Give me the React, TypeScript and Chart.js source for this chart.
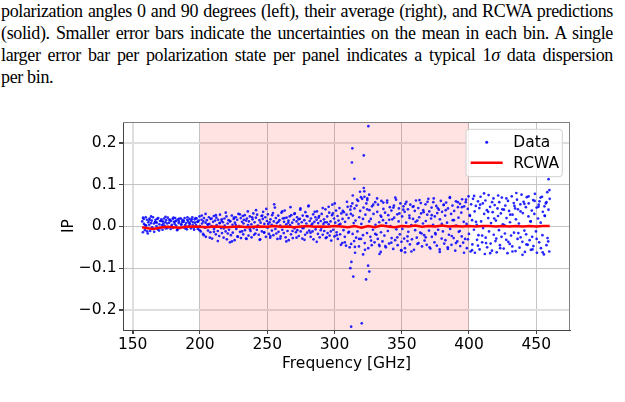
import React, { useEffect, useRef } from "react";
import { Chart, registerables } from "chart.js";

Chart.register(...registerables);

// Measured frequencies (GHz), sweep A
const freqGHz = [
  157.1,157.6,158.2,158.4,159.1,159.7,160.0,160.6,161.2,161.6,
  162.3,162.5,163.0,163.7,164.2,164.4,165.1,165.8,166.0,166.7,
  167.0,167.7,167.9,168.6,169.0,169.8,170.3,170.5,171.3,171.8,
  172.2,172.4,173.3,173.5,174.3,174.6,174.9,175.7,176.1,176.4,
  177.1,177.6,178.2,178.4,179.1,179.7,180.0,180.6,181.2,181.6,
  182.3,182.5,183.0,183.7,184.2,184.4,185.1,185.8,186.0,186.7,
  187.0,187.7,187.9,188.6,189.0,189.8,190.3,190.5,191.3,191.8,
  192.2,192.4,193.3,193.5,194.3,194.6,194.9,195.7,196.1,196.4,
  197.1,197.6,198.2,198.4,199.1,199.7,200.0,200.6,201.2,201.6,
  202.3,202.5,203.0,203.7,204.2,204.4,205.1,205.8,206.0,206.7,
  207.0,207.7,207.9,208.6,209.0,209.8,210.3,210.5,211.3,211.8,
  212.2,212.4,213.3,213.5,214.3,214.6,214.9,215.7,216.1,216.4,
  217.1,217.6,218.2,218.4,219.1,219.7,220.0,220.6,221.2,221.6,
  222.3,222.5,223.0,223.7,224.2,224.4,225.1,225.8,226.0,226.7,
  227.0,227.7,227.9,228.6,229.0,229.8,230.3,230.5,231.3,231.8,
  232.2,232.4,233.3,233.5,234.3,234.6,234.9,235.7,236.1,236.4,
  237.1,237.6,238.2,238.4,239.1,239.7,240.0,240.6,241.2,241.6,
  242.3,242.5,243.0,243.7,244.2,244.4,245.1,245.8,246.0,246.7,
  247.0,247.7,247.9,248.6,249.0,249.8,250.3,250.5,251.3,251.8,
  252.2,252.4,253.3,253.5,254.3,254.6,254.9,255.7,256.1,256.4,
  257.1,257.6,258.2,258.4,259.1,259.7,260.0,260.6,261.2,261.6,
  262.3,262.5,263.0,263.7,264.2,264.4,265.1,265.8,266.0,266.7,
  267.0,267.7,267.9,268.6,269.0,269.8,270.3,270.5,271.3,271.8,
  272.2,272.4,273.3,273.5,274.3,274.6,274.9,275.7,276.1,276.4,
  277.1,277.6,278.2,278.4,279.1,279.7,280.0,280.6,281.2,281.6,
  282.3,282.5,283.0,283.7,284.2,284.4,285.1,285.8,286.0,286.7,
  287.0,287.7,287.9,288.6,289.0,289.8,290.3,290.5,291.3,291.8,
  292.2,292.4,293.3,293.5,294.3,294.6,294.9,295.7,296.1,296.4,
  297.1,297.6,298.2,298.4,299.1,299.7,300.0,300.6,301.2,301.6,
  302.3,302.5,303.0,303.7,304.2,304.4,305.1,305.8,306.0,306.7,
  307.0,307.7,307.9,308.6,309.0,309.8,310.3,310.5,311.3,311.8,
  312.2,312.4,313.3,313.5,314.3,314.6,314.9,315.7,316.1,316.4,
  317.1,317.6,318.2,318.4,319.1,319.7,320.0,320.6,321.2,321.6,
  322.3,322.5,323.0,323.7,324.2,324.4,325.1,325.8,326.0,326.7,
  327.0,327.7,327.9,328.6,329.0,329.8,330.3,330.5,331.3,331.8,
  332.2,332.4,333.3,333.5,334.3,334.6,334.9,335.7,336.1,336.4,
  337.1,337.6,338.2,338.4,339.1,339.7,340.0,340.6,341.2,341.6,
  342.3,342.5,343.0,343.7,344.2,344.4,345.1,345.8,346.0,346.7,
  347.0,347.7,347.9,348.6,349.0,349.8,350.3,350.5,351.3,351.8,
  352.2,352.4,353.3,353.5,354.3,354.6,354.9,355.7,356.1,356.4,
  357.1,357.6,358.2,358.4,359.1,359.7,360.0,360.6,361.2,361.6,
  362.3,362.5,363.0,363.7,364.2,364.4,365.1,365.8,366.0,366.7,
  367.0,367.7,367.9,368.6,369.0,369.8,370.3,370.5,371.3,371.8,
  372.2,372.4,373.3,373.5,374.3,374.6,374.9,375.7,376.1,376.4,
  377.1,377.6,378.2,378.4,379.1,379.7,380.0,380.6,381.2,381.6,
  382.3,382.5,383.0,383.7,384.2,384.4,385.1,385.8,386.0,386.7,
  387.0,387.7,387.9,388.6,389.0,389.8,390.3,390.5,391.3,391.8,
  392.2,392.4,393.3,393.5,394.3,394.6,394.9,395.7,396.1,396.4,
  397.1,397.6,398.2,398.4,399.1,399.7,400.0,400.6,401.2,401.6,
  402.3,402.5,403.0,403.7,404.2,404.4,405.1,405.8,406.0,406.7,
  407.0,407.7,407.9,408.6,409.0,409.8,410.3,410.5,411.3,411.8,
  412.2,412.4,413.3,413.5,414.3,414.6,414.9,415.7,416.1,416.4,
  417.1,417.6,418.2,418.4,419.1,419.7,420.0,420.6,421.2,421.6,
  422.3,422.5,423.0,423.7,424.2,424.4,425.1,425.8,426.0,426.7,
  427.0,427.7,427.9,428.6,429.0,429.8,430.3,430.5,431.3,431.8,
  432.2,432.4,433.3,433.5,434.3,434.6,434.9,435.7,436.1,436.4,
  437.1,437.6,438.2,438.4,439.1,439.7,440.0,440.6,441.2,441.6,
  442.3,442.5,443.0,443.7,444.2,444.4,445.1,445.8,446.0,446.7,
  447.0,447.7,447.9,448.6,449.0,449.8,450.3,450.5,451.3,451.8,
  452.2,452.4,453.3,453.5,454.3,454.6,454.9,455.7,456.1,456.4,
  457.1,457.6,458.2,458.4,459.1,459.7,460.0,
];

// Measured IP, sweep A
const ipData = [
  .012,-.014,.018,.006,-.009,.022,.002,.016,-.017,.010,
  .004,.019,-.011,.008,.014,-.002,.022,.007,-.013,.011,
  .016,.001,.009,-.007,.020,.005,.013,-.004,.017,.003,
  -.008,.012,.019,.002,.010,-.005,.015,.007,.021,-.001,
  .009,.016,-.006,.013,.004,.018,-.003,.011,.006,.020,
  .002,.014,-.009,.017,.008,.012,-.004,.019,.005,.010,
  .015,-.002,.011,.020,.003,.008,-.007,.016,.012,.001,
  .018,.006,-.005,.013,.022,.004,.010,-.008,.017,.009,
  .003,.019,.011,-.006,.014,.024,.001,-.012,.016,.007,
  -.018,.012,.020,-.003,.009,-.025,.015,.004,-.010,.022,
  .006,-.014,.018,.001,-.029,.011,.025,-.006,.014,-.019,
  .021,.003,-.011,.016,-.023,.008,.028,-.004,.013,-.016,
  .010,-.027,.019,.002,-.012,.024,-.031,.007,.015,-.008,
  -.038,.013,-.021,.026,.004,-.015,.018,-.033,.009,.022,
  -.006,.016,-.024,.030,.001,-.013,.020,-.028,.011,.025,
  -.019,.007,.027,-.009,.014,-.030,.019,.003,-.022,.012,
  .024,-.011,.005,-.026,.017,.031,-.004,.010,-.017,.021,
  -.008,.028,.002,-.020,.015,-.032,.009,.025,-.012,.018,
  .035,-.015,.006,.022,-.025,.013,-.003,.029,-.018,.010,
  -.027,.017,.004,-.010,.032,-.021,.012,.045,-.006,.020,
  .008,-.030,.026,-.013,.015,.002,-.024,.033,-.008,.019,
  -.016,.011,.038,-.026,.005,.021,-.011,.014,-.033,.024,
  .003,-.019,.027,.009,-.028,.016,-.005,.031,-.014,.012,
  .022,-.009,.006,-.023,.018,.040,-.012,.010,-.029,.026,
  -.004,.015,-.020,.034,.007,-.015,.024,.048,-.010,.013,
  -.025,.019,.004,-.012,.029,-.031,.011,.022,-.007,.016,
  .036,-.018,.008,.025,-.026,.013,-.003,.030,-.020,.006,
  .017,-.011,.041,-.028,.010,.024,-.016,.005,.033,-.022,
  .012,-.034,.027,.052,-.008,.019,-.024,.009,.038,-.014,
  .025,-.030,.014,.044,-.019,.006,.031,-.040,.018,-.009,
  .034,-.025,.011,-.046,.028,.047,-.015,.020,-.050,.040,
  .030,-.042,.055,-.018,.008,-.035,.043,.014,-.027,.050,
  -.012,.061,-.048,.022,.037,-.030,.006,.066,-.021,.045,
  .071,-.040,.028,.055,-.016,.063,-.052,.012,.039,-.025,
  .018,-.045,.048,-.008,.030,-.038,.058,.004,-.020,.035,
  -.030,.052,.010,-.047,.026,-.014,.061,-.036,.015,.042,
  -.022,.033,-.050,.008,.057,-.011,.027,-.041,.046,.001,
  .038,-.028,.017,-.054,.050,.021,-.033,.064,-.007,.029,
  -.045,.012,.043,-.019,.055,-.037,.024,-.006,.048,-.029,
  .035,-.052,.009,.059,-.024,.041,-.013,.026,-.043,.052,
  .003,-.031,.047,.018,-.056,.037,-.009,.062,-.027,.014,
  .044,-.040,.022,-.015,.056,.031,-.048,.007,.039,-.021,
  -.034,.053,.013,-.044,.028,.066,-.010,.036,-.053,.019,
  .045,-.025,.004,.058,-.038,.024,-.016,.049,-.046,.032,
  -.008,.040,-.055,.017,.061,-.029,.035,-.012,.052,-.041,
  .026,-.033,.057,.009,-.050,.043,-.020,.068,-.006,.030,
  -.044,.050,.015,-.028,.037,-.058,.060,.002,-.036,.046,
  .021,-.013,.054,-.047,.033,-.024,.065,-.039,.011,.048,
  -.030,.058,.006,-.052,.042,.072,-.018,.027,-.060,.053,
  .015,-.043,.066,-.008,.036,-.063,.049,.004,-.032,.060,
  -.021,.044,-.055,.071,.012,-.038,.055,-.004,.030,-.066,
  .062,-.027,.039,-.050,.020,.075,-.012,.047,-.041,.008,
  -.058,.034,.067,-.020,.051,-.035,.014,-.062,.043,.025,
  -.009,.058,-.045,.031,-.025,.069,.005,-.053,.040,-.017,
  .050,-.032,.020,-.064,.061,.037,-.042,.010,-.022,.072,
  -.048,.028,.056,-.015,.043,-.059,.017,.064,-.030,.041,
  .007,-.051,.053,-.026,.076,-.037,.032,.059,-.010,-.061,
  .046,-.019,.070,-.044,.024,.055,-.033,.012,-.056,.038,
  -.025,.063,-.047,.030,.078,-.012,.045,-.063,.019,.052,
  -.038,.060,.009,-.052,.071,-.021,.035,-.067,.048,.025,
  .055,-.045,.082,-.028,.040,-.060,.066,
];

// Measured frequencies (GHz), sweep B
const freqSweepB = [
  157.7,159.4,160.8,162.5,163.7,165.6,166.9,168.3,169.6,171.2,
  172.8,174.4,175.8,177.3,178.9,180.3,181.7,183.4,184.8,186.2,
  187.9,189.1,190.7,192.2,193.9,195.4,196.8,198.3,199.7,201.4,
  202.9,204.2,205.8,207.3,208.7,210.4,211.8,213.3,214.7,216.2,
  217.8,219.2,220.7,222.4,223.8,225.3,226.6,228.2,229.7,231.3,
  232.7,234.3,235.6,237.2,238.8,240.3,241.7,243.2,244.8,246.3,
  247.8,249.3,250.8,252.4,253.7,255.2,256.8,258.3,259.7,261.2,
  262.8,264.2,265.7,267.3,268.8,270.2,271.8,273.3,274.7,276.2,
  277.7,279.3,280.8,282.2,283.7,285.3,286.8,288.2,289.8,291.3,
  292.8,294.2,295.7,297.3,298.8,300.2,301.7,303.3,304.8,306.2,
  307.7,309.3,310.8,312.2,313.7,315.2,316.8,318.3,319.7,321.2,
  322.7,324.3,325.8,327.2,328.8,330.3,331.7,333.2,334.8,336.3,
  337.8,339.2,340.7,342.3,343.8,345.2,346.7,348.3,349.8,351.2,
  352.7,354.3,355.8,357.2,358.8,360.3,361.7,363.2,364.8,366.3,
  367.8,369.2,370.7,372.3,373.8,375.2,376.7,378.3,379.8,381.2,
  382.7,384.3,385.8,387.2,388.8,390.3,391.7,393.2,394.8,396.3,
  397.8,399.2,400.7,402.3,403.8,405.2,406.7,408.3,409.8,411.2,
  412.7,414.3,415.8,417.2,418.8,420.3,421.7,423.2,424.8,426.3,
  427.8,429.2,430.7,432.3,433.8,435.2,436.7,438.3,439.8,441.2,
  442.7,444.3,445.8,447.2,448.8,450.3,451.7,453.2,454.8,456.3,
  457.6,458.9,459.8,
];

// Measured IP, sweep B
const ipSweepB = [
  .021,.003,-.012,.015,.024,-.006,.010,.018,-.010,.013,
  .007,.023,-.004,.016,.001,.021,.012,-.007,.019,.004,
  .014,-.005,.022,.008,.017,-.003,.020,.011,-.009,.026,
  -.021,.030,.005,-.027,.019,-.013,.027,-.035,.008,.017,
  -.005,.033,-.017,.012,-.036,.021,.004,-.025,.029,-.012,
  .016,-.029,.036,-.007,.022,-.020,.039,.001,-.031,.026,
  -.014,.042,.006,-.023,.027,.053,-.017,.011,-.029,.036,
  .020,-.036,.009,.046,-.011,.030,-.027,.017,.043,-.004,
  -.032,.025,.050,-.015,.007,.035,-.037,.021,-.009,.044,
  .010,-.026,.047,-.012,.031,.055,-.021,.004,-.044,.037,
  -.038,.059,-.013,.048,.026,-.049,.064,-.030,.070,.018,
  -.056,.041,.076,-.034,.052,-.018,.067,-.044,.023,.057,
  -.047,.062,.016,-.039,.045,.069,-.026,.031,-.058,.040,
  .054,-.035,.020,-.060,.048,.011,-.042,.063,-.017,.034,
  -.026,.059,-.050,.027,.067,-.019,.044,-.061,.006,.051,
  .039,-.054,.070,-.023,.015,-.040,.058,-.011,.046,-.063,
  .064,-.031,.025,-.057,.073,.011,-.046,.052,-.022,.079,
  -.040,.035,-.064,.058,.019,-.029,.074,-.052,.041,.003,
  .067,-.037,.028,-.060,.049,.080,-.016,.036,-.068,.054,
  -.043,.072,.012,-.055,.061,-.030,.047,.069,-.062,.026,
  .058,-.036,.087,
];

// Isolated scattered points
const outlierFreq = [311.8,312.4,312.6,313.0,313.3,313.6,314.0,314.8,315.3,
  319.0,320.3,321.3,321.8,321.8,322.2,323.5,324.4,325.0,325.2,325.9,
  333.5,334.4,349.6,352.5,459.2];
const outlierIP = [-0.100,-0.240,-0.085,0.153,0.187,0.074,-0.120,0.114,-0.063,
  0.083,-0.232,-0.067,0.170,0.092,0.084,-0.127,0.067,-0.094,0.240,-0.108,
  -0.066,-0.061,-0.057,-0.062,0.113];

// RCWA prediction
const rcwaFreq = [157,160,165,170,175,180,185,190,195,200,
  205,210,215,220,225,230,235,240,245,250,
  255,260,265,270,275,280,285,290,295,300,
  305,310,315,320,325,330,335,340,345,350,
  355,360,365,370,375,380,385,390,395,400,
  405,410,415,420,425,430,435,440,445,450,
  455,460];
const rcwaIP = [-.002,-.004,-.006,-.003,-.001,-.002,-.003,-.001,.000,-.001,
  -.002,.000,-.001,-.002,-.001,.000,-.002,-.001,.000,-.001,
  .001,-.001,.000,-.002,.000,.001,-.001,.000,-.001,.001,
  .000,-.002,.001,-.003,.001,-.002,.002,.000,-.002,.001,
  .000,.002,-.001,.001,.000,.002,.000,.001,.000,.001,
  .000,.001,.001,.000,.001,.000,.001,.000,.001,.000,
  .001,.001];

const xTicks = [150, 200, 250, 300, 350, 400, 450];
const yTicks = [-0.2, -0.1, 0.0, 0.1, 0.2];
const shadedBand = [200, 400];
const xRange = [142.8, 475.1];
const yRange = [-0.248, 0.25];
const softGridX = [150];
const softGridY = [0.2, -0.2];

const FONT = "'DejaVu Sans', sans-serif";
const FS = 15.5;

const bandPlugin = {
  id: "band",
  beforeDatasetsDraw(chart: any) {
    const { ctx, chartArea: a, scales } = chart;
    const x0 = scales.x.getPixelForValue(shadedBand[0]);
    const x1 = scales.x.getPixelForValue(shadedBand[1]);
    ctx.save();
    ctx.fillStyle = "rgba(255,0,0,0.115)";
    ctx.fillRect(x0, a.top, x1 - x0, a.bottom - a.top);
    ctx.restore();
  },
};

const frameLegendPlugin = {
  id: "frameLegend",
  afterDraw(chart: any) {
    const { ctx, chartArea: a } = chart;
    ctx.save();
    ctx.strokeStyle = "#808080";
    ctx.lineWidth = 1;
    ctx.beginPath();
    ctx.moveTo(a.left, a.top + 0.5);
    ctx.lineTo(a.right, a.top + 0.5);
    ctx.moveTo(a.right - 0.5, a.top);
    ctx.lineTo(a.right - 0.5, a.bottom);
    ctx.stroke();

    const lx = a.right - 104;
    const ly = a.top + 7.3;
    const lw = 96.3;
    const lh = 47.4;
    const r = 3;
    ctx.beginPath();
    ctx.moveTo(lx + r, ly);
    ctx.lineTo(lx + lw - r, ly);
    ctx.arcTo(lx + lw, ly, lx + lw, ly + r, r);
    ctx.lineTo(lx + lw, ly + lh - r);
    ctx.arcTo(lx + lw, ly + lh, lx + lw - r, ly + lh, r);
    ctx.lineTo(lx + r, ly + lh);
    ctx.arcTo(lx, ly + lh, lx, ly + lh - r, r);
    ctx.lineTo(lx, ly + r);
    ctx.arcTo(lx, ly, lx + r, ly, r);
    ctx.closePath();
    ctx.fillStyle = "rgba(255,255,255,0.8)";
    ctx.fill();
    ctx.strokeStyle = "#d0d0d0";
    ctx.stroke();

    ctx.fillStyle = "rgba(0,0,255,0.9)";
    ctx.beginPath();
    ctx.arc(lx + 20.7, ly + 13, 1.5, 0, Math.PI * 2);
    ctx.fill();
    ctx.strokeStyle = "#ff0000";
    ctx.lineWidth = 2.5;
    ctx.beginPath();
    ctx.moveTo(lx + 4.7, ly + 33.4);
    ctx.lineTo(lx + 36.7, ly + 33.4);
    ctx.stroke();

    ctx.fillStyle = "#000";
    ctx.font = `${FS}px ${FONT}`;
    ctx.textAlign = "left";
    ctx.textBaseline = "alphabetic";
    ctx.fillText("Data", lx + 47.3, ly + 17.4);
    ctx.fillText("RCWA", lx + 47.3, ly + 39);
    ctx.restore();
  },
};

function fmtY(v: number) {
  return v.toFixed(1).replace("-", "\u2212");
}

export default function App() {
  const ref = useRef<HTMLCanvasElement | null>(null);

  useEffect(() => {
    if (!ref.current) return;
    const sweepA = freqGHz.map((f, i) => ({ x: f, y: ipData[i] }));
    const sweepB = freqSweepB.map((f, i) => ({ x: f, y: ipSweepB[i] }));
    const extra = outlierFreq.map((f, i) => ({ x: f, y: outlierIP[i] }));
    const rcwa = rcwaFreq.map((f, i) => ({ x: f, y: rcwaIP[i] }));

    const chart = new Chart(ref.current, {
      type: "scatter",
      data: {
        datasets: [
          {
            label: "Data",
            data: [...sweepA, ...sweepB, ...extra],
            pointRadius: 1.35,
            pointBorderWidth: 0,
            backgroundColor: "rgba(0,0,255,0.85)",
            borderColor: "rgba(0,0,255,0.85)",
            order: 1,
          },
          {
            label: "RCWA",
            data: rcwa,
            showLine: true,
            pointRadius: 0,
            borderColor: "#ff0000",
            backgroundColor: "#ff0000",
            borderWidth: 2.5,
            tension: 0,
            order: 0,
          } as any,
        ],
      },
      options: {
        animation: false,
        responsive: false,
        layout: { padding: { left: 0, right: 55, top: 22, bottom: 0 } },
        plugins: { legend: { display: false }, tooltip: { enabled: false } },
        scales: {
          x: {
            type: "linear",
            min: xRange[0],
            max: xRange[1],
            afterBuildTicks: (s: any) => {
              s.ticks = xTicks.map((v) => ({ value: v }));
            },
            afterFit: (s: any) => {
              s.height = 72;
            },
            ticks: {
              font: { family: FONT, size: FS },
              color: "#000",
              padding: 2,
              maxRotation: 0,
              autoSkip: false,
              callback: (v: any) => String(v),
            },
            grid: {
              color: (c: any) => (c.tick && softGridX.includes(c.tick.value) ? "#dedede" : "#c4c4c4"),
              lineWidth: (c: any) => (c.tick && softGridX.includes(c.tick.value) ? 2 : 1),
              tickLength: 4,
              tickColor: "#444",
            },
            border: { display: true, color: "#444", width: 1 },
            title: {
              display: true,
              text: "Frequency [GHz]",
              color: "#000",
              font: { family: FONT, size: FS },
              padding: { top: 0, bottom: 28.7 },
            },
          },
          y: {
            type: "linear",
            min: yRange[0],
            max: yRange[1],
            afterBuildTicks: (s: any) => {
              s.ticks = yTicks.map((v) => ({ value: v }));
            },
            afterFit: (s: any) => {
              s.width = 123;
            },
            ticks: {
              font: { family: FONT, size: FS },
              color: "#000",
              padding: 2.5,
              callback: (v: any) => fmtY(Number(v)),
            },
            grid: {
              color: (c: any) => (c.tick && softGridY.includes(c.tick.value) ? "#dedede" : "#c4c4c4"),
              lineWidth: (c: any) => (c.tick && softGridY.includes(c.tick.value) ? 2 : 1),
              tickLength: 4,
              tickColor: "#444",
            },
            border: { display: true, color: "#444", width: 1 },
            title: {
              display: true,
              text: "IP",
              color: "#000",
              font: { family: FONT, size: FS },
              padding: { top: 60, bottom: 0 },
            },
          },
        },
      },
      plugins: [bandPlugin, frameLegendPlugin],
    });
    return () => chart.destroy();
  }, []);

  const just: React.CSSProperties = {
    textAlign: "justify",
    textAlignLast: "justify" as any,
  };

  return (
    <div>
      <div
        style={{
          position: "absolute",
          left: 1,
          top: 0,
          width: 612,
          font: "18px 'Liberation Serif', serif",
          letterSpacing: "-0.35px",
          lineHeight: "22px",
          color: "#000",
        }}
      >
        <div style={just}>
          polarization angles 0 and 90 degrees (left), their average (right), and RCWA predictions
        </div>
        <div style={just}>
          (solid). Smaller error bars indicate the uncertainties on the mean in each bin. A single
        </div>
        <div style={just}>
          larger error bar per polarization state per panel indicates a typical 1<i>σ</i> data dispersion
        </div>
        <div>per bin.</div>
      </div>
      <canvas
        ref={ref}
        width={625}
        height={302}
        style={{ position: "absolute", left: 0, top: 100, width: 625, height: 302 }}
      />
    </div>
  );
}
